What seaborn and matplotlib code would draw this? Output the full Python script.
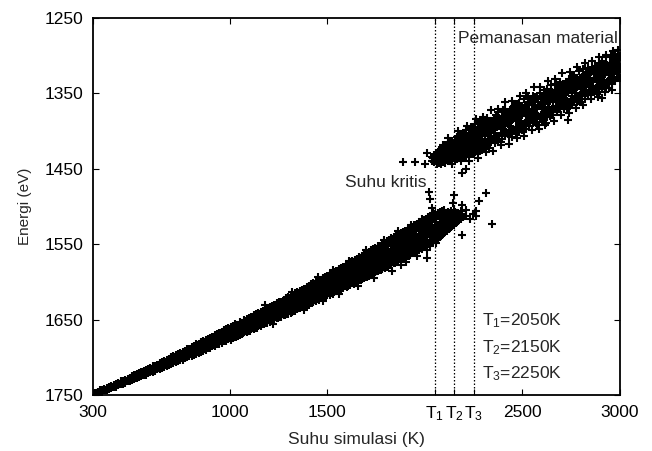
import pandas as pd
import matplotlib
matplotlib.use("Agg")
import matplotlib.pyplot as plt
import seaborn as sns

# Lower branch (solid phase): temperature column -> energies
lower_temp = [
    300, 312, 324, 335, 347, 359, 371, 383, 394,
    406, 418, 430, 441, 453, 465, 477, 488,
    500, 512, 524, 536, 547, 559, 571, 583, 594,
    606, 618, 630, 642, 653, 665, 677, 689,
    700, 712, 724, 736, 747, 759, 771, 783, 794,
    806, 818, 830, 841, 853, 865, 877, 888,
    900, 912, 924, 935, 947, 959, 971, 982, 994,
    1006, 1018, 1029, 1041, 1053, 1065, 1076, 1088,
    1100, 1112, 1124, 1135, 1147, 1159, 1171, 1182, 1194,
    1206, 1218, 1229, 1241, 1253, 1265, 1276, 1288,
    1300, 1312, 1324, 1335, 1347, 1359, 1371, 1382, 1394,
    1406, 1418, 1429, 1441, 1453, 1465, 1476, 1488,
    1500, 1512, 1524, 1535, 1547, 1559, 1571, 1582, 1594,
    1606, 1618, 1629, 1641, 1653, 1665, 1676, 1688,
    1700, 1712, 1724, 1735, 1747, 1759, 1771, 1782, 1794,
    1806, 1818, 1829, 1841, 1853, 1865, 1876, 1888,
    1900, 1912, 1924, 1935, 1947, 1959, 1971, 1982, 1994,
    2006, 2018, 2029, 2041, 2053, 2065, 2076, 2088,
    2100, 2112, 2124, 2135, 2147, 2159, 2171, 2184, 2198, 2213, 2229, 2246, 2262,
]
lower_energy = [
    [1751, 1749], [1750, 1747], [1748, 1746], [1747, 1744], [1746, 1743],
    [1744, 1742], [1744, 1741], [1742, 1739], [1741, 1738],
    [1740, 1737], [1739, 1735], [1737, 1734], [1736, 1732], [1735, 1731],
    [1734, 1730], [1732, 1729], [1731, 1727],
    [1730, 1727, 1725], [1729, 1724], [1728, 1725, 1722], [1726, 1721],
    [1725, 1722, 1719], [1724, 1718], [1723, 1720, 1717], [1721, 1715], [1720, 1718, 1714],
    [1719, 1714, 1712], [1718, 1715, 1711], [1716, 1710], [1715, 1712, 1708],
    [1714, 1709, 1706], [1713, 1710, 1705], [1711, 1707, 1704], [1710, 1706, 1702],
    [1709, 1704, 1700], [1708, 1705, 1701, 1698], [1706, 1703, 1697],
    [1705, 1701, 1698, 1696], [1704, 1699, 1694], [1703, 1699, 1696, 1693],
    [1701, 1697, 1692], [1700, 1695, 1692, 1689], [1698, 1694, 1689],
    [1698, 1694, 1691, 1687], [1697, 1690, 1685], [1695, 1691, 1688, 1683],
    [1694, 1687, 1682], [1693, 1689, 1685, 1680], [1691, 1686, 1679],
    [1690, 1685, 1681, 1677], [1688, 1683, 1676],
    [1688, 1682, 1678, 1674], [1685, 1679, 1673], [1685, 1680, 1676, 1671],
    [1683, 1678, 1669], [1682, 1676, 1672, 1668], [1681, 1673, 1666],
    [1679, 1675, 1669, 1664], [1678, 1670, 1663], [1676, 1672, 1667, 1661],
    [1677, 1669, 1664, 1660], [1674, 1667, 1658], [1673, 1668, 1662, 1656],
    [1672, 1664, 1657], [1670, 1666, 1659, 1653], [1669, 1661, 1654],
    [1667, 1663, 1656, 1651], [1666, 1658, 1649],
    [1665, 1661, 1653, 1648], [1663, 1655, 1647], [1663, 1657, 1650, 1644],
    [1661, 1652, 1643], [1659, 1654, 1647, 1641], [1658, 1649, 1640],
    [1656, 1651, 1644, 1638], [1655, 1646, 1637], [1654, 1648, 1641, 1635],
    [1653, 1645, 1638, 1633], [1651, 1642, 1632], [1650, 1644, 1636, 1630],
    [1648, 1639, 1628], [1647, 1641, 1633, 1627], [1646, 1636, 1626],
    [1644, 1638, 1630, 1624], [1643, 1633, 1622],
    [1642, 1635, 1627, 1620], [1641, 1631, 1619], [1639, 1633, 1624, 1617],
    [1638, 1628, 1615], [1636, 1630, 1621, 1614], [1635, 1625, 1612],
    [1633, 1626, 1617, 1611], [1632, 1622, 1609], [1630, 1623, 1614, 1607],
    [1630, 1621, 1613, 1605], [1628, 1618, 1603], [1626, 1619, 1609, 1602],
    [1625, 1614, 1600], [1623, 1616, 1606, 1599], [1622, 1611, 1597],
    [1620, 1613, 1603, 1595], [1619, 1608, 1594],
    [1618, 1610, 1599, 1592], [1617, 1605, 1590], [1615, 1607, 1596, 1588],
    [1614, 1602, 1587], [1612, 1604, 1593, 1585], [1611, 1599, 1583],
    [1609, 1601, 1589, 1581], [1608, 1596, 1580], [1606, 1597, 1586, 1578],
    [1606, 1595, 1585, 1576], [1604, 1591, 1574], [1602, 1593, 1581, 1572],
    [1601, 1588, 1571], [1599, 1590, 1578, 1569], [1598, 1585, 1567],
    [1596, 1587, 1575, 1565], [1595, 1582, 1564],
    [1593, 1584, 1571, 1562], [1592, 1579, 1560], [1590, 1581, 1568, 1558],
    [1589, 1576, 1557], [1587, 1578, 1565, 1555], [1586, 1573, 1553],
    [1584, 1575, 1562, 1552], [1583, 1570, 1550], [1581, 1572, 1559, 1548],
    [1580, 1568, 1557, 1546], [1578, 1564, 1544], [1577, 1566, 1553, 1542],
    [1575, 1561, 1541], [1573, 1563, 1550, 1539], [1572, 1558, 1537],
    [1570, 1559, 1546, 1535], [1569, 1555, 1534],
    [1567, 1556, 1543, 1532], [1566, 1551, 1530], [1564, 1553, 1540, 1528],
    [1562, 1548, 1527], [1560, 1549, 1536, 1525], [1559, 1545, 1523],
    [1557, 1546, 1532, 1521], [1555, 1541, 1520], [1554, 1543, 1529, 1518],
    [1552, 1540, 1527, 1516], [1550, 1537, 1531, 1514], [1549, 1538, 1524, 1513],
    [1547, 1535, 1528, 1511], [1545, 1534, 1521, 1510], [1543, 1531, 1524, 1508],
    [1540, 1530, 1517, 1507], [1538, 1527, 1520, 1506],
    [1535, 1526, 1514, 1505], [1533, 1522, 1512], [1530, 1520, 1508],
    [1527, 1517, 1506], [1525, 1514, 1504], [1522, 1511], [1519, 1508],
    [1517, 1506], [1514], [1512, 1505], [1516], [1510], [1513, 1506],
]

# more lower-branch samples lying between the columns above
lower_mid_temp = [
    306, 318, 329, 341, 353, 365, 377, 388,
    400, 412, 424, 435, 447, 459, 471, 482, 494,
    506, 518, 530, 541, 553, 565, 577, 588,
    600, 612, 624, 636, 647, 659, 671, 683, 694,
    706, 718, 730, 742, 753, 765, 777, 789,
    800, 812, 824, 836, 847, 859, 871, 883, 894,
    906, 918, 929, 941, 953, 965, 976, 988,
    1000, 1012, 1024, 1035, 1047, 1059, 1071, 1082, 1094,
    1106, 1118, 1130, 1141, 1153, 1165, 1176, 1188,
    1200, 1212, 1224, 1235, 1247, 1259, 1271, 1282, 1294,
    1306, 1318, 1329, 1341, 1353, 1365, 1376, 1388,
    1400, 1412, 1424, 1435, 1447, 1459, 1471, 1482, 1494,
    1506, 1518, 1529, 1541, 1553, 1565, 1576, 1588,
    1600, 1612, 1624, 1635, 1647, 1659, 1671, 1682, 1694,
    1706, 1718, 1729, 1741, 1753, 1765, 1776, 1788,
    1800, 1812, 1824, 1835, 1847, 1859, 1870, 1882, 1894,
    1906, 1918, 1929, 1941, 1953, 1965, 1976, 1988,
    2000, 2012, 2024, 2035, 2047, 2059, 2071, 2082, 2094,
    2106, 2118, 2130, 2141, 2153, 2165, 2178, 2191,
]
lower_mid_energy = [
    [1749], [1747], [1747], [1745], [1743], [1743], [1741], [1740],
    [1739], [1737], [1736], [1735], [1733], [1733], [1731], [1729], [1728],
    [1729, 1726], [1727, 1724], [1726, 1723], [1724, 1721], [1723, 1720],
    [1722, 1719], [1720, 1717], [1719, 1716],
    [1718, 1715], [1717, 1713], [1716, 1712], [1714, 1710], [1713, 1709],
    [1712, 1708], [1710, 1706], [1709, 1705], [1708, 1703],
    [1707, 1703, 1700], [1705, 1701], [1704, 1700, 1697], [1702, 1698],
    [1701, 1697, 1695], [1700, 1695], [1698, 1694, 1692], [1697, 1692],
    [1696, 1692, 1689], [1694, 1689], [1693, 1689, 1686], [1691, 1686],
    [1690, 1686, 1683], [1689, 1684], [1687, 1683, 1680], [1686, 1681], [1685, 1680, 1677],
    [1684, 1679, 1675], [1682, 1677, 1674], [1681, 1676, 1672], [1679, 1674, 1671],
    [1678, 1673, 1669], [1677, 1671, 1668], [1675, 1670, 1666], [1674, 1669, 1665],
    [1673, 1667, 1663], [1673, 1666, 1662], [1671, 1665, 1660], [1670, 1663, 1659, 1673],
    [1668, 1662, 1657], [1667, 1661, 1656], [1665, 1659, 1654, 1668], [1664, 1658, 1653],
    [1663, 1656, 1651],
    [1662, 1655, 1650, 1665], [1660, 1653, 1648], [1659, 1652, 1647], [1657, 1650, 1645, 1661],
    [1656, 1649, 1644], [1654, 1647, 1642], [1653, 1646, 1641, 1656], [1651, 1644, 1639],
    [1650, 1643, 1637], [1649, 1641, 1636, 1652], [1647, 1640, 1634], [1646, 1638, 1633],
    [1644, 1637, 1631, 1648], [1643, 1635, 1630], [1641, 1634, 1628], [1640, 1632, 1627, 1644],
    [1638, 1631, 1625],
    [1637, 1629, 1623], [1636, 1628, 1622, 1640], [1634, 1626, 1620], [1633, 1625, 1618],
    [1631, 1623, 1617, 1635], [1630, 1622, 1615], [1628, 1620, 1614], [1627, 1619, 1612, 1631],
    [1626, 1617, 1610], [1625, 1615, 1608], [1623, 1614, 1606, 1628], [1622, 1612, 1605],
    [1620, 1611, 1603], [1619, 1609, 1602, 1624], [1617, 1608, 1600], [1616, 1606, 1599],
    [1614, 1605, 1597, 1619],
    [1613, 1603, 1595], [1612, 1601, 1593], [1610, 1600, 1592, 1616], [1609, 1598, 1590],
    [1607, 1597, 1589], [1605, 1595, 1587, 1611], [1604, 1594, 1586], [1602, 1592, 1584],
    [1601, 1590, 1582, 1607], [1600, 1589, 1580], [1598, 1587, 1578], [1597, 1586, 1577, 1603],
    [1595, 1584, 1575], [1594, 1582, 1573], [1592, 1581, 1572, 1598], [1590, 1579, 1570],
    [1589, 1578, 1569],
    [1588, 1576, 1567, 1593], [1586, 1574, 1565], [1585, 1573, 1563], [1583, 1571, 1562, 1589],
    [1581, 1569, 1560], [1580, 1568, 1558], [1578, 1566, 1557, 1584], [1577, 1565, 1555],
    [1575, 1563, 1553], [1574, 1561, 1551, 1580], [1572, 1560, 1549], [1571, 1558, 1548],
    [1569, 1556, 1546, 1575], [1567, 1555, 1545], [1566, 1553, 1543], [1564, 1551, 1541, 1570],
    [1563, 1550, 1540],
    [1561, 1548, 1538], [1560, 1546, 1536, 1566], [1558, 1545, 1534], [1556, 1543, 1533],
    [1555, 1541, 1531, 1562], [1553, 1540, 1529], [1552, 1538, 1528], [1550, 1536, 1526, 1557],
    [1549, 1535, 1524], [1547, 1533, 1522], [1545, 1531, 1520, 1553], [1544, 1530, 1519],
    [1541, 1528, 1517], [1539, 1526, 1515, 1548], [1536, 1524, 1513], [1533, 1522, 1511],
    [1531, 1520, 1509],
    [1528, 1518, 1509], [1526, 1516, 1507], [1523, 1513], [1521, 1510], [1518, 1507],
    [1514], [1512], [1510],
]

# ragged edge points of the lower branch
lower_edge_temp = [1180, 1320, 1455, 1530, 1610, 1700, 1790, 1860, 1930, 1985,
                   1220, 1380, 1480, 1560, 1660, 1740, 1830, 1880, 1905, 1960, 2010]
lower_edge_energy = [1631, 1613, 1594, 1584, 1572, 1558, 1544, 1533, 1524, 1516,
                     1656, 1637, 1625, 1616, 1605, 1595, 1585, 1577, 1574, 1566, 1558]

# Upper branch (after heating through the transition)
upper_temp = [
    2038, 2049, 2060, 2071, 2082, 2093, 2105, 2117, 2129, 2141,
    2153, 2165, 2176, 2188, 2200, 2212, 2224, 2235, 2247, 2259,
    2271, 2282, 2294, 2306, 2318, 2329, 2341, 2353, 2365, 2376,
    2388, 2400, 2412, 2424, 2435, 2447, 2459, 2471, 2482, 2494,
    2506, 2518, 2529, 2541, 2553, 2565, 2576, 2588, 2600, 2612,
    2624, 2635, 2647, 2659, 2671, 2682, 2694, 2706, 2718, 2729,
    2741, 2753, 2765, 2776, 2788, 2800, 2812, 2824, 2835, 2847,
    2859, 2871, 2882, 2894, 2906, 2918, 2929, 2941, 2953, 2965,
    2976, 2988, 2999,
]
upper_energy = [
    [1440, 1434], [1441, 1436, 1432], [1443, 1435, 1430], [1442, 1437, 1429, 1425],
    [1444, 1432, 1424], [1441, 1434, 1427, 1419], [1442, 1430, 1418],
    [1439, 1432, 1423, 1416], [1440, 1428, 1415], [1437, 1429, 1420, 1413],
    [1438, 1424, 1412], [1437, 1428, 1417, 1408], [1436, 1422, 1407],
    [1435, 1425, 1413, 1404], [1434, 1419, 1403], [1433, 1422, 1410, 1399],
    [1432, 1416, 1398], [1430, 1419, 1407, 1395], [1431, 1413, 1394],
    [1428, 1416, 1403, 1391], [1428, 1410, 1390], [1426, 1413, 1400, 1388],
    [1425, 1406, 1387], [1424, 1411, 1399, 1386], [1420, 1395, 1383],
    [1423, 1412, 1400, 1388], [1406, 1395, 1388], [1411, 1403, 1386, 1382],
    [1412, 1394, 1379], [1414, 1392, 1386, 1374], [1414, 1397, 1385],
    [1402, 1392, 1382, 1372], [1407, 1390, 1371], [1404, 1390, 1375],
    [1399, 1393, 1382, 1372], [1408, 1397, 1385, 1373], [1400, 1382, 1367],
    [1401, 1376, 1364], [1401, 1388, 1376, 1363], [1387, 1376, 1369],
    [1397, 1375, 1369, 1357], [1397, 1380, 1368], [1385, 1375, 1365, 1355],
    [1386, 1378, 1361, 1357], [1389, 1372, 1353], [1382, 1376, 1365, 1355],
    [1384, 1370, 1355], [1383, 1365, 1350], [1388, 1377, 1365, 1353],
    [1384, 1371, 1359, 1346], [1381, 1356, 1344], [1368, 1357, 1350],
    [1379, 1357, 1351, 1339], [1379, 1362, 1350], [1367, 1357, 1347, 1337],
    [1368, 1360, 1343, 1339], [1371, 1354, 1335], [1364, 1358, 1347, 1337],
    [1366, 1352, 1337], [1371, 1360, 1348, 1336], [1364, 1346, 1331],
    [1366, 1353, 1341, 1328], [1362, 1337, 1325], [1350, 1339, 1332],
    [1360, 1338, 1332, 1320], [1361, 1344, 1332], [1348, 1338, 1328, 1318],
    [1350, 1342, 1325, 1321], [1352, 1335, 1316], [1346, 1340, 1329, 1319],
    [1347, 1333, 1318], [1347, 1329, 1314], [1351, 1340, 1328, 1316],
    [1348, 1335, 1323, 1310], [1344, 1319, 1307], [1332, 1321, 1314],
    [1342, 1320, 1314, 1302], [1343, 1326, 1314], [1330, 1320, 1310, 1300],
    [1332, 1324, 1307, 1303], [1334, 1317, 1298], [1328, 1322, 1311, 1301],
    [1329, 1315, 1300],
]

upper_mid_temp = [
    2044, 2055, 2066, 2077, 2088, 2099, 2111, 2123, 2135, 2147,
    2159, 2171, 2182, 2194, 2206, 2218, 2230, 2241, 2253, 2265,
    2277, 2288, 2300, 2312, 2324, 2335, 2347, 2359, 2371, 2382,
    2394, 2406, 2418, 2429, 2441, 2453, 2465, 2476, 2488, 2500,
    2512, 2524, 2535, 2547, 2559, 2571, 2582, 2594, 2606, 2618,
    2629, 2641, 2653, 2665, 2676, 2688, 2700, 2712, 2724, 2735,
    2747, 2759, 2771, 2782, 2794, 2806, 2818, 2829, 2841, 2853,
    2865, 2876, 2888, 2900, 2912, 2923, 2935, 2947, 2959, 2971,
    2982, 2994,
]
upper_mid_energy = [
    [1439, 1435], [1438, 1434, 1431], [1438, 1433, 1429], [1437, 1431, 1427],
    [1436, 1430, 1425], [1435, 1428, 1422], [1435, 1427, 1421], [1434, 1426, 1420],
    [1433, 1425, 1418], [1432, 1424, 1417],
    [1431, 1422, 1415], [1430, 1420, 1413], [1429, 1419, 1412, 1433], [1428, 1418, 1410],
    [1426, 1416, 1408], [1425, 1414, 1406, 1429], [1424, 1413, 1404], [1423, 1411, 1402],
    [1421, 1410, 1400, 1426], [1420, 1408, 1398],
    [1419, 1406, 1397], [1418, 1405, 1395, 1423], [1417, 1403, 1393], [1415, 1402, 1392],
    [1413, 1400, 1390, 1419], [1412, 1399, 1389], [1410, 1397, 1387], [1409, 1396, 1386, 1416],
    [1407, 1394, 1384], [1406, 1393, 1383],
    [1404, 1391, 1381, 1411], [1403, 1390, 1380], [1401, 1388, 1378], [1400, 1387, 1377, 1407],
    [1398, 1385, 1375], [1397, 1384, 1374], [1395, 1382, 1372, 1402], [1394, 1381, 1371],
    [1392, 1379, 1369], [1391, 1378, 1368, 1398],
    [1389, 1376, 1366], [1388, 1375, 1365], [1386, 1373, 1363, 1393], [1385, 1372, 1362],
    [1383, 1370, 1360], [1382, 1369, 1358, 1389], [1380, 1367, 1357], [1379, 1366, 1355],
    [1377, 1364, 1354, 1384], [1376, 1363, 1352],
    [1374, 1361, 1351], [1373, 1360, 1349, 1380], [1371, 1358, 1348], [1370, 1357, 1346],
    [1368, 1355, 1345, 1375], [1367, 1354, 1343], [1365, 1352, 1342], [1364, 1351, 1340, 1371],
    [1362, 1349, 1339], [1361, 1348, 1337],
    [1359, 1346, 1336, 1366], [1358, 1345, 1334], [1356, 1343, 1333], [1355, 1342, 1331, 1361],
    [1353, 1340, 1330], [1352, 1339, 1328], [1350, 1337, 1327, 1357], [1349, 1336, 1325],
    [1347, 1334, 1324], [1346, 1333, 1322, 1352],
    [1344, 1331, 1321], [1343, 1330, 1319], [1341, 1328, 1318, 1348], [1340, 1327, 1316],
    [1338, 1325, 1315], [1337, 1324, 1313, 1343], [1335, 1322, 1312], [1334, 1321, 1310],
    [1332, 1319, 1309, 1338], [1331, 1318, 1307],
    [1329, 1316, 1306], [1328, 1315, 1304],
]

# ragged edge points of the upper branch
upper_edge_temp = [
    2120, 2170, 2215, 2262, 2300, 2338, 2375, 2410, 2448, 2485, 2520, 2558,
    2592, 2630, 2668, 2705, 2742, 2780, 2818, 2855, 2893, 2930, 2962, 2992,
    2140, 2185, 2228, 2270, 2312, 2350, 2392, 2430, 2470, 2508, 2547, 2585,
    2622, 2660, 2700, 2736, 2775, 2812, 2850, 2888, 2925, 2960,
    2575, 2615, 2733, 2908,
]
upper_edge_energy = [
    1409, 1400, 1393, 1384, 1381, 1372, 1370, 1361, 1360, 1353, 1350, 1341,
    1342, 1334, 1331, 1323, 1322, 1315, 1309, 1307, 1302, 1299, 1294, 1292,
    1444, 1440, 1439, 1435, 1428, 1426, 1419, 1417, 1409, 1406, 1398, 1397,
    1389, 1386, 1378, 1376, 1369, 1366, 1358, 1355, 1348, 1345,
    1392, 1392, 1385, 1356,
]

# Stray points around the critical temperature
stray_temp = [1888, 1950, 2003, 2011, 2021, 2026, 2037, 2042, 2149, 2144,
              2190, 2190, 2210, 2277, 2313, 2344, 2190, 2011]
stray_energy = [1441, 1441, 1444, 1429, 1481, 1490, 1502, 1509, 1485, 1495,
                1498, 1456, 1450, 1493, 1482, 1523, 1538, 1568]

crit_temps = [2050, 2150, 2250]
crit_names = ["1", "2", "3"]
xtick_vals = [300, 1000, 1500, 2050, 2150, 2250, 2500, 3000]
xtick_text = ["300", "1000", "1500", r"$T_1$", r"$T_2$", r"$T_3$", "2500", "3000"]
ytick_vals = [1250, 1350, 1450, 1550, 1650, 1750]

# long table for seaborn
rows = []
for temps, energies in [(lower_temp, lower_energy), (lower_mid_temp, lower_mid_energy),
                        (upper_temp, upper_energy), (upper_mid_temp, upper_mid_energy)]:
    for t, es in zip(temps, energies):
        rows += [(t, e) for e in es]
rows += list(zip(lower_edge_temp, lower_edge_energy))
rows += list(zip(upper_edge_temp, upper_edge_energy))
rows += list(zip(stray_temp, stray_energy))
df = pd.DataFrame(rows, columns=["temp", "energy"])

sns.set_style("ticks")
plt.rcParams["font.family"] = ["Liberation Sans", "DejaVu Sans"]
plt.rcParams["mathtext.default"] = "regular"

fig, ax = plt.subplots(figsize=(6.52, 4.51), dpi=100)
fig.subplots_adjust(left=0.1426, right=0.951, bottom=0.1242, top=0.960)

for t in crit_temps:
    ax.axvline(t, color="black", linestyle=(0, (1.2, 1.6)), linewidth=0.9, zorder=1)

sns.scatterplot(data=df, x="temp", y="energy", marker="+", color="black",
                s=30, linewidth=1.5, ax=ax, legend=False, zorder=2)

ax.set_xlim(300, 3000)
ax.set_ylim(1750, 1250)
ax.set_xticks(xtick_vals)
ax.set_xticklabels(xtick_text)
ax.set_yticks(ytick_vals)
ax.tick_params(direction="in", length=4, width=0.8, top=True, right=True,
               labelsize=12.5, pad=7, colors="black")
for sp in ax.spines.values():
    sp.set_linewidth(1.3)
    sp.set_color("black")

ax.set_xlabel("Suhu simulasi (K)", fontsize=12.5, labelpad=6)
ax.set_ylabel("Energi (eV)", fontsize=11, labelpad=9)

ax.text(2011, 1474, "Suhu kritis", ha="right", va="baseline", fontsize=12.5)
ax.text(2988, 1283, "Pemanasan material", ha="right", va="baseline", fontsize=12.5)
for i, (t, n) in enumerate(zip(crit_temps, crit_names)):
    ax.text(2293, 1658 + 35 * i, "$T_%s$=%dK" % (n, t), ha="left",
            va="baseline", fontsize=12.5)

fig.savefig("out.png", dpi=100)
